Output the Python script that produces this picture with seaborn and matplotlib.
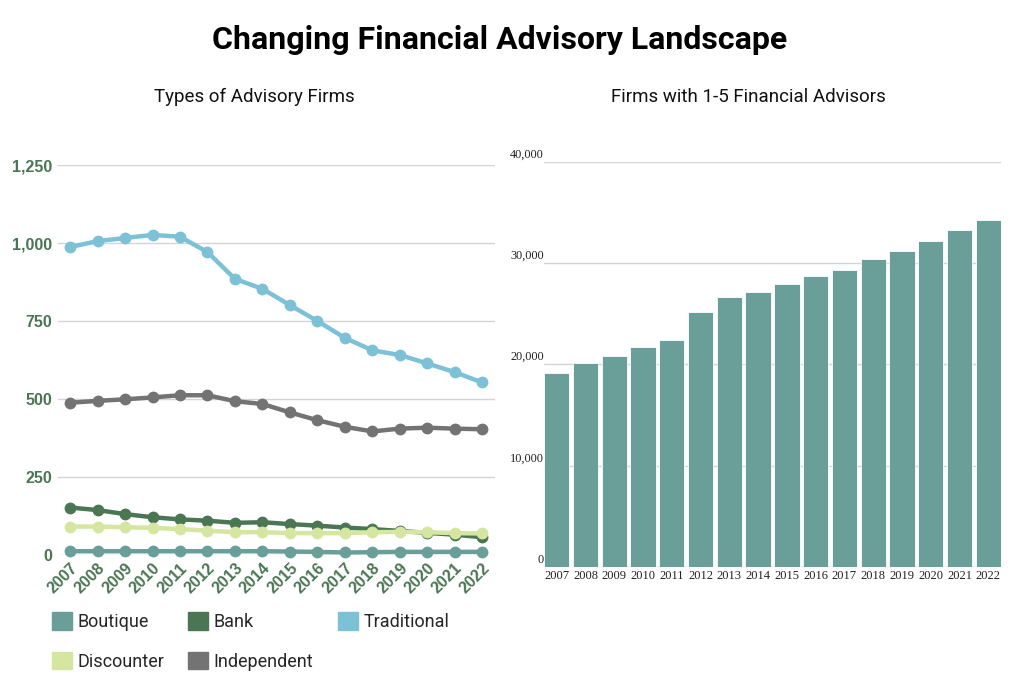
import matplotlib
matplotlib.use("Agg")
import matplotlib.pyplot as plt
import matplotlib.transforms as mtransforms
from matplotlib.patches import Patch
from matplotlib.ticker import FuncFormatter
import seaborn as sns
import pandas as pd

years = list(range(2007, 2023))
types = ["Boutique", "Bank", "Traditional", "Discounter", "Independent"]
boutique = [12, 12, 12, 12, 12, 12, 12, 12, 11, 10, 8, 9, 10, 10, 10, 10]
bank = [152, 144, 131, 121, 114, 110, 103, 105, 99, 94, 88, 83, 77, 71, 65, 57]
traditional = [987, 1006, 1016, 1026, 1020, 971, 885, 853, 801, 750, 696, 656, 641, 614, 586, 553]
discounter = [91, 91, 89, 87, 83, 78, 73, 73, 70, 70, 70, 73, 74, 73, 70, 69]
independent = [488, 494, 499, 505, 512, 512, 493, 484, 457, 432, 411, 396, 405, 408, 405, 403]
small_firms = [19150, 20150, 20850, 21750, 22400, 25150, 26650, 27150, 27950, 28700,
               29350, 30400, 31200, 32200, 33250, 34250]

colors = {"Boutique": "#6a9e99", "Bank": "#4a7653", "Traditional": "#7cc1d6",
          "Discounter": "#d4e6a0", "Independent": "#737373"}
green = "#4a7653"

series = dict(zip(types, [boutique, bank, traditional, discounter, independent]))
df = pd.DataFrame([{"Year": y, "Type": t, "Count": v}
                   for t in types for y, v in zip(years, series[t])])
bars = pd.DataFrame({"Year": [str(y) for y in years], "Firms": small_firms})

sns.set_theme(style="white")
plt.rcParams["font.family"] = ["Roboto", "DejaVu Sans"]

fig = plt.figure(figsize=(10.18, 6.98), dpi=100)
fig.patch.set_facecolor("white")

# Left: line chart
ax1 = fig.add_axes([0.057, 0.2049, 0.4293, 0.5587])
sns.lineplot(data=df, x="Year", y="Count", hue="Type", hue_order=types,
             palette=colors, marker="o", markersize=8.5, markeredgewidth=0,
             linewidth=3.2, ax=ax1, legend=False, clip_on=False, zorder=3)
ax1.set_ylim(0, 1250)
ax1.set_xlim(2007 - 0.44, 2022 + 0.47)
ax1.set_yticks([0, 250, 500, 750, 1000, 1250])
ax1.yaxis.set_major_formatter(FuncFormatter(lambda v, p: f"{int(v):,}"))
ax1.set_xticks(years)
ax1.set_xticklabels([str(y) for y in years], rotation=45, ha="right",
                    rotation_mode="anchor")
for lab in ax1.get_xticklabels() + ax1.get_yticklabels():
    lab.set_fontfamily(["Liberation Sans", "DejaVu Sans"])
    lab.set_fontweight("bold")
    lab.set_fontsize(11.5)
    lab.set_color(green)
ax1.tick_params(axis="both", length=0)
ax1.tick_params(axis="y", pad=4)
ax1.tick_params(axis="x", pad=4)
ax1.grid(axis="y", color="#d4d4d4", linewidth=1)
ax1.set_axisbelow(True)
for s in ax1.spines.values():
    s.set_visible(False)
ax1.set_xlabel("")
ax1.set_ylabel("")

# Right: bar chart
ax2 = fig.add_axes([0.5344, 0.1877, 0.4489, 0.5802])
sns.barplot(data=bars, x="Year", y="Firms", color="#6a9e99", width=0.88,
            saturation=1, edgecolor="white", linewidth=0.6, ax=ax2, zorder=2)
ax2.set_ylim(0, 40000)
ax2.set_xlim(-0.44, len(years) - 1 + 0.44)
ax2.set_yticks([0, 10000, 20000, 30000, 40000])
ax2.yaxis.set_major_formatter(FuncFormatter(lambda v, p: f"{int(v):,}"))
ax2.tick_params(axis="both", length=0)
ax2.tick_params(axis="y", pad=0)
ax2.tick_params(axis="x", pad=2)
offset = mtransforms.ScaledTranslation(0, 1.0 / 72, fig.dpi_scale_trans)
for lab in ax2.get_yticklabels():
    lab.set_fontfamily(["Liberation Serif", "DejaVu Serif"])
    lab.set_fontsize(8.8)
    lab.set_color("#222222")
    lab.set_va("bottom")
    lab.set_transform(lab.get_transform() + offset)
for lab in ax2.get_xticklabels():
    lab.set_fontfamily(["Liberation Serif", "DejaVu Serif"])
    lab.set_fontsize(9)
    lab.set_color("#222222")
ax2.grid(axis="y", color="#d4d4d4", linewidth=1)
ax2.set_axisbelow(True)
for s in ax2.spines.values():
    s.set_visible(False)
ax2.set_xlabel("")
ax2.set_ylabel("")

# Titles
fig.text(0.491, 0.943, "Changing Financial Advisory Landscape", ha="center",
         va="center", fontsize=23, fontweight="bold", color="black")
fig.text(0.2495, 0.861, "Types of Advisory Firms", ha="center", va="center",
         fontsize=13.5, color="#111111")
fig.text(0.7348, 0.861, "Firms with 1-5 Financial Advisors", ha="center",
         va="center", fontsize=13.5, color="#111111")

# Legend (row-wise order: Boutique, Bank, Traditional / Discounter, Independent)
legend_order = ["Boutique", "Discounter", "Bank", "Independent", "Traditional"]
handles = [Patch(facecolor=colors[t], edgecolor=colors[t], label=t) for t in legend_order]
fig.legend(handles=handles, loc="upper left", bbox_to_anchor=(0.051, 0.1225),
           ncol=3, frameon=False, fontsize=13, handlelength=1.1, handleheight=1.1,
           handletextpad=0.3, columnspacing=1.35, labelspacing=1.15,
           borderaxespad=0, borderpad=0)

fig.savefig("out.png", dpi=100, facecolor="white")
